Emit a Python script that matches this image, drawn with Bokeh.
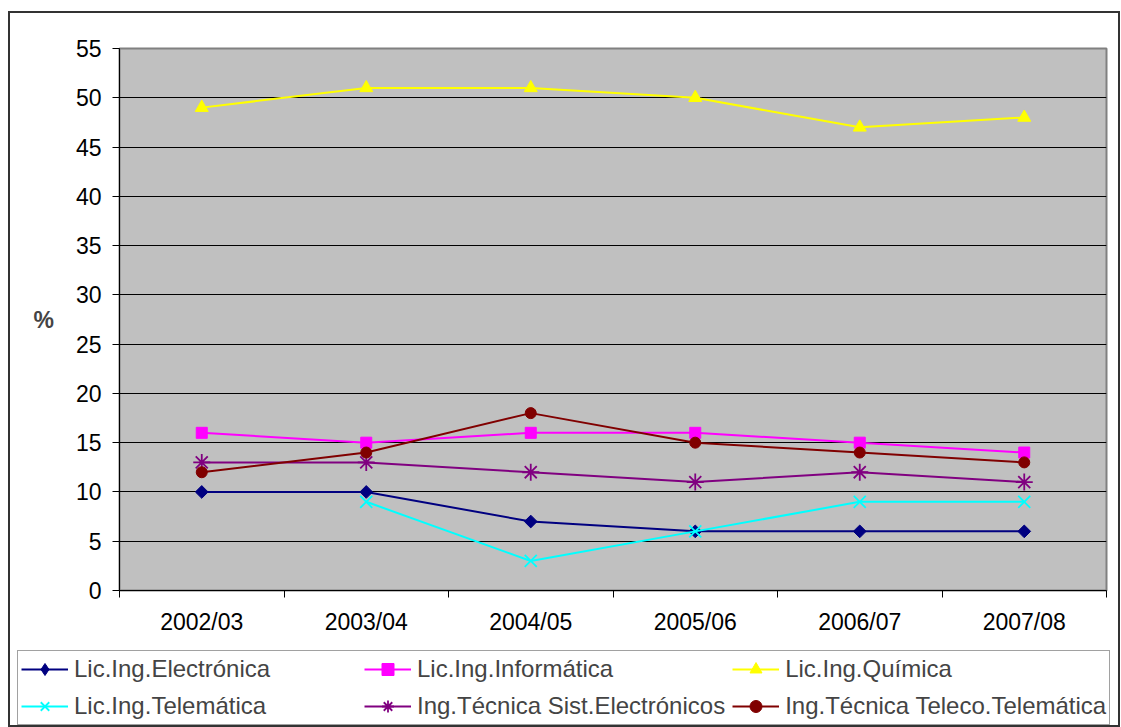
import math
from bokeh.plotting import figure
from bokeh.layouts import column
from bokeh.models import (FixedTicker, Legend, LegendItem, ColumnDataSource)
from bokeh.embed import file_html
from bokeh.resources import INLINE

years = ["2002/03", "2003/04", "2004/05", "2005/06", "2006/07", "2007/08"]
electronica = [10, 10, 7, 6, 6, 6]
informatica = [16, 15, 16, 16, 15, 14]
quimica = [49, 51, 51, 50, 47, 48]
telematica = [float("nan"), 9, 3, 6, 9, 9]
sist_electronicos = [13, 13, 12, 11, 12, 11]
teleco_telematica = [12, 14, 18, 15, 14, 13]
y_ticks = list(range(0, 56, 5))

# name, values, colour, plot marker, plot size, angle, legend marker, legend size
series = [
    ("Lic.Ing.Electrónica", electronica, "#000080", "square", 9, math.pi / 4, "diamond", 15),
    ("Lic.Ing.Informática", informatica, "#FF00FF", "square", 11, 0, "square", 11),
    ("Lic.Ing.Química", quimica, "#FFFF00", "triangle", 13, 0, "triangle", 13),
    ("Lic.Ing.Telemática", telematica, "#00FFFF", "x", 17, 0, "x", 17),
    ("Ing.Técnica Sist.Electrónicos", sist_electronicos, "#800080", "asterisk", 17, 0, "asterisk", 17),
    ("Ing.Técnica Teleco.Telemática", teleco_telematica, "#800000", "circle", 11, 0, "circle", 11),
]

FONT = "Liberation Sans"
FS = "23px"
xs = [i + 0.5 for i in range(len(years))]

W = 1108
H1 = 635
H2 = 77

p = figure(width=W, height=H1, output_backend="svg", toolbar_location=None,
           x_range=(0, len(years)), y_range=(0, 55),
           min_border_left=109, min_border_right=12, min_border_top=35, min_border_bottom=58)
p.frame_align = False
p.background_fill_color = "#C0C0C0"
p.border_fill_color = "white"
p.outline_line_color = "#808080"
p.outline_line_width = 2

p.xgrid.grid_line_color = None
p.ygrid.grid_line_color = "black"
p.ygrid.grid_line_width = 1
p.ygrid.ticker = FixedTicker(ticks=y_ticks)

p.yaxis.ticker = FixedTicker(ticks=y_ticks)
p.yaxis.axis_line_color = "black"
p.yaxis.major_tick_out = 7
p.yaxis.major_tick_in = 0
p.yaxis.minor_tick_line_color = None
p.yaxis.major_label_text_font = FONT
p.yaxis.major_label_text_font_size = FS
p.yaxis.major_label_text_color = "black"
p.yaxis.major_label_standoff = 11
p.yaxis.axis_label = "%"
p.yaxis.axis_label_orientation = "horizontal"
p.yaxis.axis_label_text_font = FONT
p.yaxis.axis_label_text_font_size = "23px"
p.yaxis.axis_label_text_font_style = "bold"
p.yaxis.axis_label_standoff = 19

p.xaxis.ticker = FixedTicker(ticks=xs, minor_ticks=list(range(len(years) + 1)))
p.xaxis.major_label_overrides = {x: y for x, y in zip(xs, years)}
p.xaxis.major_tick_line_color = None
p.xaxis.major_tick_out = 0
p.xaxis.major_tick_in = 0
p.xaxis.minor_tick_line_color = "black"
p.xaxis.minor_tick_out = 7
p.xaxis.minor_tick_in = 0
p.xaxis.axis_line_color = "black"
p.xaxis.major_label_text_font = FONT
p.xaxis.major_label_text_font_size = FS
p.xaxis.major_label_text_color = "black"
p.xaxis.major_label_standoff = 11

# legend-only figure (its renderers share the data but lie outside its view)
p2 = figure(width=W, height=H2, output_backend="svg", toolbar_location=None,
            x_axis_type=None, y_axis_type=None, x_range=(0, 1), y_range=(1000, 1001),
            min_border_left=0, min_border_right=0, min_border_top=0, min_border_bottom=0)
p2.frame_align = False
p2.outline_line_color = None
p2.background_fill_color = "white"
p2.border_fill_color = "white"
p2.grid.grid_line_color = None

items = []
for name, vals, color, marker, size, ang, lmarker, lsize in series:
    src = ColumnDataSource(dict(x=xs, y=vals))
    kw = dict(fill_color=color, line_color=color)
    if marker in ("x", "asterisk"):
        kw["line_width"] = 1.8
    p.line("x", "y", source=src, line_color=color, line_width=2)
    p.scatter("x", "y", source=src, marker=marker, size=size, angle=ang, **kw)
    ln = p2.line("x", "y", source=src, line_color=color, line_width=2)
    sc = p2.scatter("x", "y", source=src, marker=lmarker, size=lsize, **kw)
    items.append(LegendItem(label=name, renderers=[ln, sc]))

legend = Legend(items=items, location=(7, 0), orientation="horizontal", ncols=3,
                label_text_font=FONT, label_text_font_size="24px",
                glyph_width=47, glyph_height=30, label_height=30, label_width=283,
                label_standoff=6, spacing=7, padding=3, margin=0,
                border_line_color="#444444", border_line_width=1,
                background_fill_color="white", background_fill_alpha=1)
p2.add_layout(legend, "center")

lay = column(p, p2, width=1112, height=716, spacing=0,
             styles={"border": "2px solid #333333", "margin": "11px 0 0 8px"})

open("out.html", "w").write(file_html(lay, INLINE))
